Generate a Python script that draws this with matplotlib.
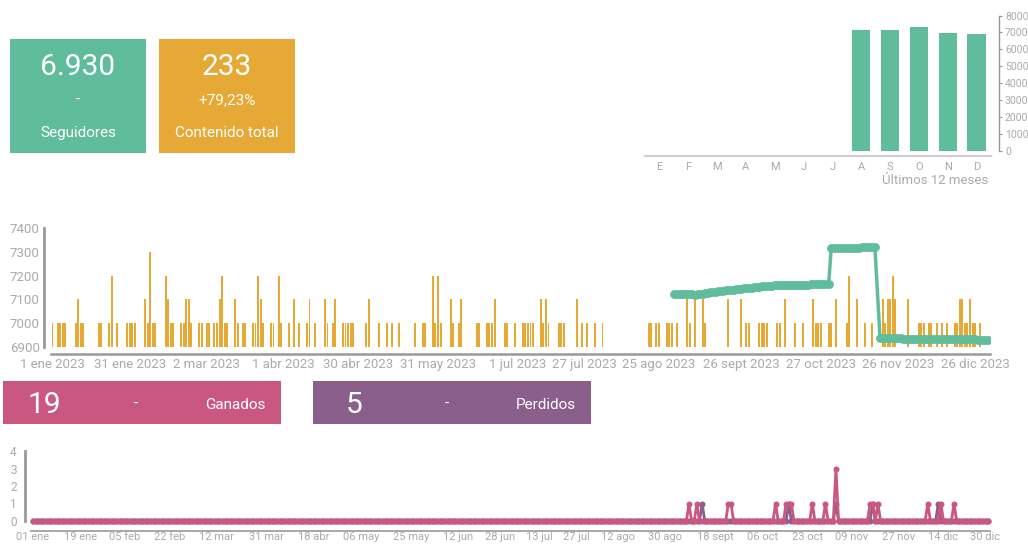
import numpy as np
import matplotlib
matplotlib.use("Agg")
import matplotlib.pyplot as plt
from matplotlib.patches import Rectangle

W, H = 1028, 544

GREEN = "#5fbd9c"
ORANGE = "#e6a935"
PINK = "#c9577f"
PURPLE = "#8a5f8b"
AXIS = "#999999"
LABEL = "#aaaaaa"

plt.rcParams['font.family'] = ['Roboto', 'DejaVu Sans']

# --- datos ---
months = ["E", "F", "M", "A", "M", "J", "J", "A", "S", "O", "N", "D"]
month_followers = [0, 0, 0, 0, 0, 0, 0, 7120, 7170, 7310, 6935, 6930]
month_yticks = [0, 1000, 2000, 3000, 4000, 5000, 6000, 7000, 8000]

# publicaciones por dia (dia del anio 2023, 0 = 1 ene)
content_days = [0, 2, 3, 4, 5, 9, 10, 11, 12, 18, 19, 22, 23, 25, 29, 30, 31, 32,
                36, 37, 38, 39, 40, 44, 45, 46, 47, 50, 51, 52, 53, 54, 57, 58,
                60, 61, 63, 64, 65, 66, 67, 68, 71, 72, 74, 75, 78, 79, 80, 81,
                82, 85, 86, 88, 89, 92, 94,
                96, 99, 100, 102, 106, 107, 109, 110, 113, 114, 115, 116, 117,
                122, 123, 127, 130, 132, 135, 141, 144, 145, 148, 149, 150, 151,
                155, 156, 158, 159, 165, 166, 169, 170, 171, 172, 176, 177, 180,
                183, 184, 185, 186, 187,
                190, 191, 192, 193, 197, 198, 199, 204, 206, 208, 211, 214, 232,
                233, 235, 236, 239, 240, 241, 243, 247, 248, 250, 253, 254, 263,
                268, 270, 271, 275, 276, 277, 278,
                282, 283, 285, 289, 292, 296, 297, 298, 299, 302, 303, 305, 309,
                310, 313, 316, 319, 323, 324, 325, 326, 327, 328, 333, 337, 338,
                339, 341, 342, 344, 346, 348, 351, 352, 353, 354, 355, 356, 357,
                358, 359, 361]
content_counts = [1, 1, 1, 1, 1, 1, 2, 1, 1, 1, 1, 1, 3, 1, 1, 1, 1, 1,
                  2, 1, 4, 1, 1, 3, 2, 1, 1, 1, 1, 2, 2, 1, 1, 1,
                  1, 1, 1, 1, 2, 3, 1, 1, 2, 1, 1, 1, 1, 1, 3, 2,
                  1, 1, 1, 3, 1, 1, 2,
                  1, 1, 2, 1, 2, 1, 1, 2, 1, 1, 1, 1, 1,
                  1, 2, 1, 1, 1, 1, 1, 1, 1, 3, 1, 3, 1,
                  2, 1, 1, 2, 1, 1, 1, 1, 1, 2, 1, 1, 1,
                  1, 1, 1, 1, 1,
                  2, 1, 2, 1, 1, 1, 1, 2, 1, 1, 1, 1, 1,
                  1, 1, 1, 1, 1, 1, 1, 2, 1, 2, 2, 1, 2,
                  2, 1, 1, 1, 1, 1, 1,
                  1, 1, 2, 1, 1, 2, 1, 1, 1, 1, 1, 2, 1,
                  3, 2, 1, 1, 2, 1, 2, 2, 3, 2, 2, 1, 1,
                  1, 1, 1, 1, 1, 1, 1, 1, 2, 2, 1, 1, 2,
                  1, 1, 1]

# seguidores diarios
fol_days = list(range(242, 321)) + list(range(322, 365))
fol_values = [7122, 7121, 7122, 7121, 7121, 7122, 7121, 7121, 7120, 7121, 7122,
              7124, 7126, 7128, 7129, 7131, 7133, 7135, 7136, 7137, 7138, 7139, 7140, 7141,
              7142, 7143, 7145, 7146, 7148, 7149, 7150, 7152, 7153, 7154, 7155, 7156,
              7157, 7158, 7158, 7159,
              7159, 7159, 7160, 7160, 7160, 7161, 7161, 7161, 7161, 7162, 7162, 7162,
              7162, 7163, 7163, 7163, 7163, 7164, 7164, 7164, 7164,
              7315, 7316, 7316, 7316, 7317, 7317, 7317, 7317, 7318, 7318, 7318, 7318,
              7319, 7319, 7319, 7319, 7320, 7320,
              6936, 6936, 6936, 6935, 6935, 6935, 6935, 6935, 6935, 6934, 6934, 6934,
              6934, 6934, 6934, 6934, 6933, 6933, 6933, 6933, 6933, 6933, 6933, 6932,
              6932, 6932, 6932, 6932, 6932, 6932, 6931, 6931, 6931, 6931, 6931, 6931,
              6931, 6931, 6930, 6930, 6930, 6930, 6930]

main_ticks = [0, 30, 60, 90, 119, 150, 181, 207, 236, 268, 299, 329, 359]
main_labels = ["1 ene 2023", "31 ene 2023", "2 mar 2023", "1 abr 2023", "30 abr 2023",
               "31 may 2023", "1 jul 2023", "27 jul 2023", "25 ago 2023", "26 sept 2023",
               "27 oct 2023", "26 nov 2023", "26 dic 2023"]
main_yticks = [6900, 7000, 7100, 7200, 7300, 7400]

# ganados / perdidos
gain_days = [250, 253, 265, 266, 283, 287, 288, 289, 297, 302, 306, 319, 320, 322, 341, 346, 351]
gain_values = [1, 1, 1, 1, 1, 1, 1, 1, 1, 1, 3, 1, 1, 1, 1, 1, 1]
lost_days = [255, 288, 306, 320, 345]
lost_values = [1, 1, 1, 1, 1]

low_ticks = [0, 18, 35, 52, 70, 89, 107, 125, 144, 162, 178, 193, 207, 223, 241, 260,
             278, 295, 312, 330, 347, 363]
low_labels = ["01 ene", "19 ene", "05 feb", "22 feb", "12 mar", "31 mar", "18 abr",
              "06 may", "25 may", "12 jun", "28 jun", "13 jul", "27 jul", "12 ago",
              "30 ago", "18 sept", "06 oct", "23 oct", "09 nov", "27 nov", "14 dic", "30 dic"]


def rect(x0, y0, x1, y1):
    # pixeles desde arriba-izquierda -> fraccion de figura
    return [x0 / W, 1 - y1 / H, (x1 - x0) / W, (y1 - y0) / H]


def fx(x):
    return x / W


def fy(y):
    return 1 - y / H


fig = plt.figure(figsize=(W / 100, H / 100), dpi=100)

# --- tarjetas ---
def card(x0, y0, x1, y1, color):
    fig.add_artist(Rectangle((fx(x0), fy(y1)), (x1 - x0) / W, (y1 - y0) / H,
                             transform=fig.transFigure, facecolor=color,
                             edgecolor="none"))


card(10, 39, 146, 153, GREEN)
card(159, 39, 295, 153, ORANGE)
fig.text(fx(78), fy(67), "6.930", color="white", fontsize=21.5, ha="center", va="center")
fig.text(fx(78), fy(100), "-", color="white", fontsize=11, ha="center", va="center")
fig.text(fx(78), fy(133), "Seguidores", color="white", fontsize=11, ha="center", va="center")
fig.text(fx(227), fy(67), "233", color="white", fontsize=21.5, ha="center", va="center")
fig.text(fx(227), fy(100), "+79,23%", color="white", fontsize=11, ha="center", va="center")
fig.text(fx(227), fy(133), "Contenido total", color="white", fontsize=11, ha="center", va="center")

card(3, 381, 281, 424, PINK)
card(313, 381, 591, 424, PURPLE)
fig.text(fx(28), fy(405), "19", color="white", fontsize=21.5, ha="left", va="center")
fig.text(fx(136), fy(404), "-", color="white", fontsize=11, ha="center", va="center")
fig.text(fx(266), fy(405), "Ganados", color="white", fontsize=11, ha="right", va="center")
fig.text(fx(346), fy(405), "5", color="white", fontsize=21.5, ha="left", va="center")
fig.text(fx(447), fy(404), "-", color="white", fontsize=11, ha="center", va="center")
fig.text(fx(576), fy(405), "Perdidos", color="white", fontsize=11, ha="right", va="center")

# --- ultimos 12 meses ---
axm = fig.add_axes(rect(645, 15.5, 991, 150.7))
axm.bar(range(12), month_followers, width=0.64, color=GREEN)
axm.set_xlim(-0.5, 11.5)
axm.set_ylim(0, 8000)
axm.set_xticks(range(12))
axm.set_xticklabels(months)
axm.set_yticks(month_yticks)
axm.yaxis.tick_right()
for s in ["top", "left"]:
    axm.spines[s].set_visible(False)
axm.spines["right"].set_position(("outward", 6))
axm.spines["right"].set_color(AXIS)
axm.spines["right"].set_linewidth(1)
axm.spines["bottom"].set_position(("outward", 4))
axm.spines["bottom"].set_color("#d0d0d0")
axm.spines["bottom"].set_linewidth(1.5)
axm.tick_params(axis="y", colors=AXIS, labelcolor=LABEL, labelsize=7.5, length=2, pad=2)
axm.tick_params(axis="x", length=0, labelcolor=LABEL, labelsize=8, pad=4)
fig.text(fx(988), fy(181), "Últimos 12 meses", color=LABEL, fontsize=9.5,
         ha="right", va="center")

# --- seguidores y contenido diario ---
ax = fig.add_axes(rect(44, 228.3, 990, 346.7))
ax.set_xlim((44 - 52.5) / 2.57, (990 - 52.5) / 2.57)
ax.set_ylim(6900, 7400)
ax.set_yticks(main_yticks)
ax.set_xticks(main_ticks)
ax.set_xticklabels(main_labels)
for s in ["top", "right"]:
    ax.spines[s].set_visible(False)
ax.spines["left"].set_color(AXIS)
ax.spines["left"].set_linewidth(2)
ax.spines["bottom"].set_color(AXIS)
ax.spines["bottom"].set_linewidth(1.8)
ax.spines["bottom"].set_position(("outward", 5))
ax.spines["bottom"].set_bounds((51 - 52.5) / 2.57, (990 - 52.5) / 2.57)
ax.tick_params(axis="both", length=0, labelcolor=LABEL, labelsize=9.5)
ax.tick_params(axis="y", pad=3)
ax.tick_params(axis="x", pad=3)

axc = ax.twinx()
axc.set_ylim(0, 5)
axc.bar(content_days, content_counts, width=0.75, color=ORANGE)
axc.axis("off")

axf = ax.twinx()
axf.set_ylim(6900, 7400)
axf.axis("off")
axf.plot(fol_days, fol_values, color=GREEN, lw=2.5, marker="o", ms=5.3,
         solid_capstyle="round")

# --- ganados / perdidos ---
gained = np.zeros(365)
gained[gain_days] = gain_values
lost = np.zeros(365)
lost[lost_days] = lost_values
all_days = np.arange(365)

axl = fig.add_axes(rect(25, 451, 990, 521))
axl.set_xlim((25 - 33) / 2.624, (990 - 33) / 2.624)
axl.set_ylim(0, 4)
axl.plot(all_days, lost, color=PURPLE, lw=2, marker="o", ms=3.3, clip_on=False)
axl.plot(all_days, gained, color=PINK, lw=2, marker="o", ms=3.3, clip_on=False)
axl.set_yticks([0, 1, 2, 3, 4])
axl.set_xticks(low_ticks)
axl.set_xticklabels(low_labels)
for s in ["top", "right"]:
    axl.spines[s].set_visible(False)
axl.spines["left"].set_color(AXIS)
axl.spines["left"].set_linewidth(2)
axl.spines["bottom"].set_color(AXIS)
axl.spines["bottom"].set_linewidth(1.2)
axl.spines["bottom"].set_position(("outward", 7))
axl.spines["bottom"].set_bounds((31 - 33) / 2.624, (990 - 33) / 2.624)
axl.tick_params(axis="y", length=0, labelcolor=LABEL, labelsize=8.5, pad=6)
axl.tick_params(axis="x", length=0, labelcolor=LABEL, labelsize=8, pad=1)

fig.savefig("out.png", dpi=100)
